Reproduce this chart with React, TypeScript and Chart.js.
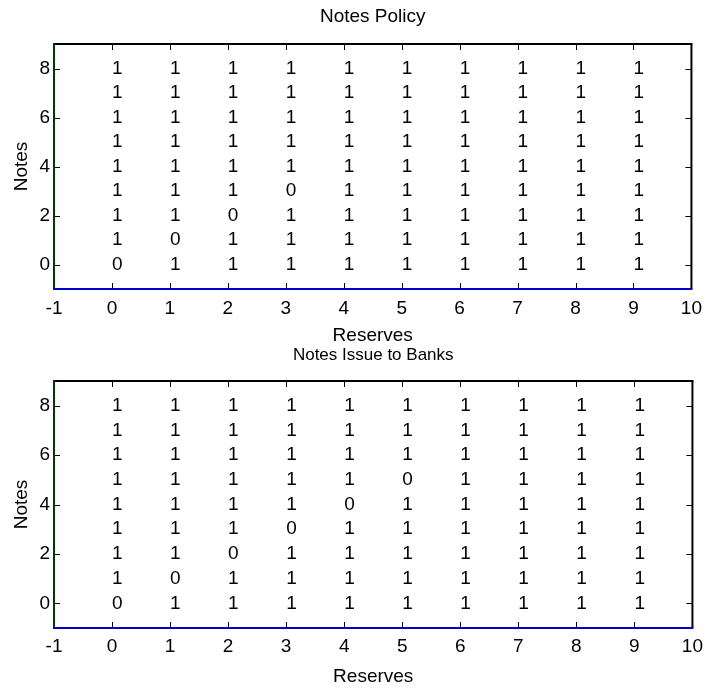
import React, { useEffect, useRef } from "react";
import { Chart, registerables } from "chart.js";

Chart.register(...registerables);

// Grid coordinates
const reserves = [0, 1, 2, 3, 4, 5, 6, 7, 8, 9];
const notes = [0, 1, 2, 3, 4, 5, 6, 7, 8];
const xTickValues = [-1, 0, 1, 2, 3, 4, 5, 6, 7, 8, 9, 10];
const yTickValues = [0, 2, 4, 6, 8];

// Decision per state: one row per notes level (row 0 = notes 0), one column per reserves level
const notesPolicy = [
  [0, 1, 1, 1, 1, 1, 1, 1, 1, 1],
  [1, 0, 1, 1, 1, 1, 1, 1, 1, 1],
  [1, 1, 0, 1, 1, 1, 1, 1, 1, 1],
  [1, 1, 1, 0, 1, 1, 1, 1, 1, 1],
  [1, 1, 1, 1, 1, 1, 1, 1, 1, 1],
  [1, 1, 1, 1, 1, 1, 1, 1, 1, 1],
  [1, 1, 1, 1, 1, 1, 1, 1, 1, 1],
  [1, 1, 1, 1, 1, 1, 1, 1, 1, 1],
  [1, 1, 1, 1, 1, 1, 1, 1, 1, 1],
];

const notesIssueToBanks = [
  [0, 1, 1, 1, 1, 1, 1, 1, 1, 1],
  [1, 0, 1, 1, 1, 1, 1, 1, 1, 1],
  [1, 1, 0, 1, 1, 1, 1, 1, 1, 1],
  [1, 1, 1, 0, 1, 1, 1, 1, 1, 1],
  [1, 1, 1, 1, 0, 1, 1, 1, 1, 1],
  [1, 1, 1, 1, 1, 0, 1, 1, 1, 1],
  [1, 1, 1, 1, 1, 1, 1, 1, 1, 1],
  [1, 1, 1, 1, 1, 1, 1, 1, 1, 1],
  [1, 1, 1, 1, 1, 1, 1, 1, 1, 1],
];

const FONT = "'Liberation Sans', Arial, Helvetica, sans-serif";

type Cell = { x: number; y: number; v: number };

function toCells(table: number[][]): Cell[] {
  const cells: Cell[] = [];
  notes.forEach((n, r) => {
    reserves.forEach((res, c) => {
      cells.push({ x: res, y: n, v: table[r][c] });
    });
  });
  return cells;
}

// Writes each cell's value at its (reserves, notes) position
const cellTextPlugin = {
  id: "cellText",
  afterDatasetsDraw(chart: any) {
    const { ctx, scales } = chart;
    ctx.save();
    ctx.font = `19px ${FONT}`;
    ctx.fillStyle = "#000";
    ctx.textAlign = "left";
    ctx.textBaseline = "middle";
    chart.data.datasets.forEach((ds: any) => {
      ds.data.forEach((p: Cell) => {
        const px = scales.x.getPixelForValue(p.x);
        const py = scales.y.getPixelForValue(p.y);
        ctx.fillText(String(p.v), px, py);
      });
    });
    ctx.restore();
  },
};

// Box around the plot area with inward tick marks on all four sides
const frameBoxPlugin = {
  id: "frameBox",
  afterDraw(chart: any) {
    const { ctx, chartArea, scales } = chart;
    const { left, right, top, bottom } = chartArea;
    const tl = 6;
    ctx.save();
    ctx.strokeStyle = "#000";
    ctx.lineWidth = 1;
    ctx.beginPath();
    xTickValues.forEach((v) => {
      const px = Math.round(scales.x.getPixelForValue(v)) + 0.5;
      ctx.moveTo(px, bottom);
      ctx.lineTo(px, bottom - tl);
      ctx.moveTo(px, top);
      ctx.lineTo(px, top + tl);
    });
    yTickValues.forEach((v) => {
      const py = Math.round(scales.y.getPixelForValue(v)) + 0.5;
      ctx.moveTo(left, py);
      ctx.lineTo(left + tl, py);
      ctx.moveTo(right, py);
      ctx.lineTo(right - tl, py);
    });
    ctx.stroke();

    ctx.lineWidth = 2;
    const seg = (color: string, x1: number, y1: number, x2: number, y2: number) => {
      ctx.strokeStyle = color;
      ctx.beginPath();
      ctx.moveTo(x1, y1);
      ctx.lineTo(x2, y2);
      ctx.stroke();
    };
    seg("#000", left, top, right + 1, top);
    seg("#000", right, top, right, bottom);
    seg("#003a00", left, top - 1, left, bottom + 1);
    seg("#0000c8", left - 1, bottom, right + 1, bottom);
    ctx.restore();
  },
};

type PanelProps = {
  title: string;
  titleSize: number;
  table: number[][];
  titlePad: { top: number; bottom: number };
  xHeight: number;
  xTickPad: number;
  xTitlePad: number;
};

function Panel({ title, titleSize, table, titlePad, xHeight, xTickPad, xTitlePad }: PanelProps) {
  const ref = useRef<HTMLCanvasElement | null>(null);

  useEffect(() => {
    if (!ref.current) return;
    const tickFont = { family: FONT, size: 19, lineHeight: 1 };
    const chart = new Chart(ref.current, {
      type: "scatter",
      data: {
        datasets: [
          {
            data: toCells(table) as any,
            pointRadius: 0,
            pointHoverRadius: 0,
            showLine: false,
          },
        ],
      },
      options: {
        animation: false,
        responsive: false,
        devicePixelRatio: 1,
        events: [],
        layout: { padding: { left: 0, right: 14, top: 0, bottom: 0 } },
        plugins: {
          legend: { display: false },
          tooltip: { enabled: false },
          title: {
            display: true,
            fullSize: false,
            text: title,
            color: "#000",
            font: { family: FONT, size: titleSize, weight: "normal", lineHeight: 1 },
            padding: titlePad,
          },
        },
        scales: {
          x: {
            type: "linear",
            min: -1,
            max: 10,
            afterBuildTicks: (s: any) => {
              s.ticks = xTickValues.map((v) => ({ value: v }));
            },
            afterFit: (s: any) => {
              s.height = xHeight;
            },
            grid: { display: false, drawTicks: false },
            border: { display: false },
            ticks: {
              color: "#000",
              font: tickFont,
              padding: xTickPad,
              maxRotation: 0,
              autoSkip: false,
              callback: (v: any) => String(v),
            },
            title: {
              display: true,
              text: "Reserves",
              color: "#000",
              font: { family: FONT, size: 19, lineHeight: 1 },
              padding: { top: 0, bottom: xTitlePad },
            },
          },
          y: {
            type: "linear",
            min: -1,
            max: 9,
            afterBuildTicks: (s: any) => {
              s.ticks = yTickValues.map((v) => ({ value: v }));
            },
            afterFit: (s: any) => {
              s.width = 54;
            },
            grid: { display: false, drawTicks: false },
            border: { display: false },
            ticks: {
              color: "#000",
              font: tickFont,
              padding: 4,
              autoSkip: false,
              callback: (v: any) => String(v),
            },
            title: {
              display: true,
              text: "Notes",
              color: "#000",
              font: { family: FONT, size: 19, lineHeight: 1 },
              padding: { top: 12, bottom: 0 },
            },
          },
        },
      },
      plugins: [cellTextPlugin, frameBoxPlugin],
    });
    return () => chart.destroy();
  }, [title, titleSize, table, titlePad, xHeight, xTickPad, xTitlePad]);

  return <canvas ref={ref} width={712} height={345} style={{ display: "block", width: 712, height: 345 }} />;
}

const topTitlePad = { top: 7, bottom: 18 };
const bottomTitlePad = { top: 2, bottom: 17 };

export default function App() {
  return (
    <div style={{ position: "absolute", left: 0, top: 0, width: 712, height: 690, background: "#fff" }}>
      <div style={{ position: "absolute", left: 0, top: 0 }}>
        <Panel
          title="Notes Policy"
          titleSize={19}
          table={notesPolicy}
          titlePad={topTitlePad}
          xHeight={56}
          xTickPad={10}
          xTitlePad={0}
        />
      </div>
      <div style={{ position: "absolute", left: 0, top: 345 }}>
        <Panel
          title="Notes Issue to Banks"
          titleSize={17}
          table={notesIssueToBanks}
          titlePad={bottomTitlePad}
          xHeight={62}
          xTickPad={9}
          xTitlePad={4}
        />
      </div>
    </div>
  );
}
